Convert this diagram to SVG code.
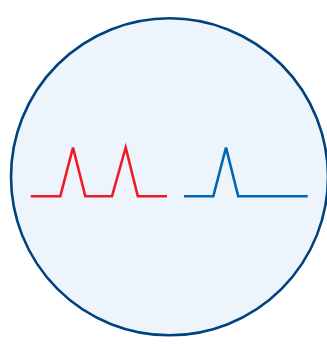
<svg xmlns="http://www.w3.org/2000/svg" width="327" height="344" viewBox="0 0 327 344">
<style>
.wave{fill:none;stroke-width:2.6;stroke-linejoin:miter;stroke-linecap:butt}
</style>
<rect width="327" height="344" fill="#ffffff"/>
<g id="circle">
<circle cx="169.5" cy="176.8" r="158.5" fill="#eef4fb" stroke="#00427d" stroke-width="2.6"/>
</g>
<g id="red-wave">
<polyline class="wave" stroke="#ed1c24" points="30.7,196.3 60.3,196.3 73,147.5 85.3,196.3 112,196.3 125.7,147.5 137.8,196.3 167,196.3"/>
</g>
<g id="blue-wave">
<polyline class="wave" stroke="#0066b3" points="184,196.3 213.3,196.3 226,147.5 238.2,196.3 307.7,196.3"/>
</g>
</svg>
